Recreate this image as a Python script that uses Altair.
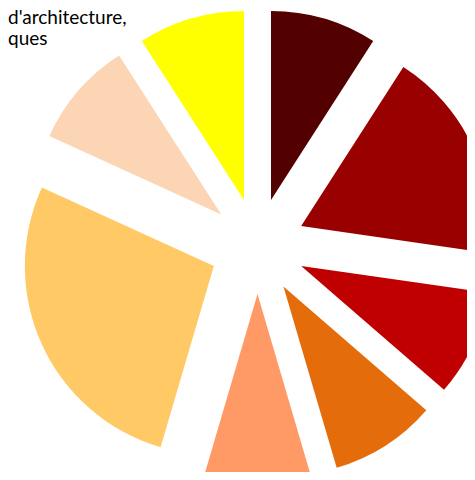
import altair as alt
import pandas as pd

# Data (slice shares, clockwise from 12 o'clock)
categories = ["Catégorie 1", "Catégorie 2", "Catégorie 3", "Catégorie 4",
              "Catégorie 5", "Catégorie 6", "Catégorie 7", "Catégorie 8"]
values = [1, 2, 1, 1, 1, 3, 1, 1]
colors = ["#520000", "#990000", "#C00000", "#E46C0A",
          "#FF9966", "#FFC966", "#FCD5B5", "#FFFF00"]
title_line1 = "d'architecture,"
title_line2 = "ques"

df = pd.DataFrame({"category": categories, "value": values,
                   "order": list(range(len(values)))})

CX, CY = 249.5, 238.0   # pie centre (px, plot area)
EXPLODE = 48            # radial explosion (px)
R = 189                 # radius (px)

pie = (
    alt.Chart(df)
    .transform_joinaggregate(total="sum(value)")
    .transform_window(cum="sum(value)", sort=[alt.SortField("order")], frame=[None, 0])
    .transform_calculate(
        start="(datum.cum - datum.value) / datum.total * 2 * PI",
        end="datum.cum / datum.total * 2 * PI",
    )
    .transform_calculate(mid="(datum.start + datum.end) / 2")
    .transform_calculate(
        px=f"{CX} + {EXPLODE} * sin(datum.mid)",
        py=f"{CY} - {EXPLODE} * cos(datum.mid)",
    )
    .mark_arc(radius=R, stroke=None)
    .encode(
        theta=alt.Theta("start:Q", scale=None),
        theta2="end:Q",
        x=alt.X("px:Q", scale=None, axis=None),
        y=alt.Y("py:Q", scale=None, axis=None),
        color=alt.Color("category:N",
                        scale=alt.Scale(domain=categories, range=colors),
                        legend=None),
        order=alt.Order("order:Q"),
    )
)

t1 = alt.Chart(pd.DataFrame({"t": [title_line1]})).mark_text(
    align="left", baseline="alphabetic", font="Lato", fontSize=19, color="#000000"
).encode(text="t:N", x=alt.value(0), y=alt.value(16))

t2 = alt.Chart(pd.DataFrame({"t": [title_line2]})).mark_text(
    align="left", baseline="alphabetic", font="Lato", fontSize=19, color="#000000"
).encode(text="t:N", x=alt.value(0), y=alt.value(37))

chart = (
    alt.layer(pie, t1, t2)
    .properties(width=459, height=464, padding=0, autosize="none", background="white")
    .configure_view(strokeWidth=0)
)

chart.save("out.html", embed_options={"renderer": "svg", "actions": False})
